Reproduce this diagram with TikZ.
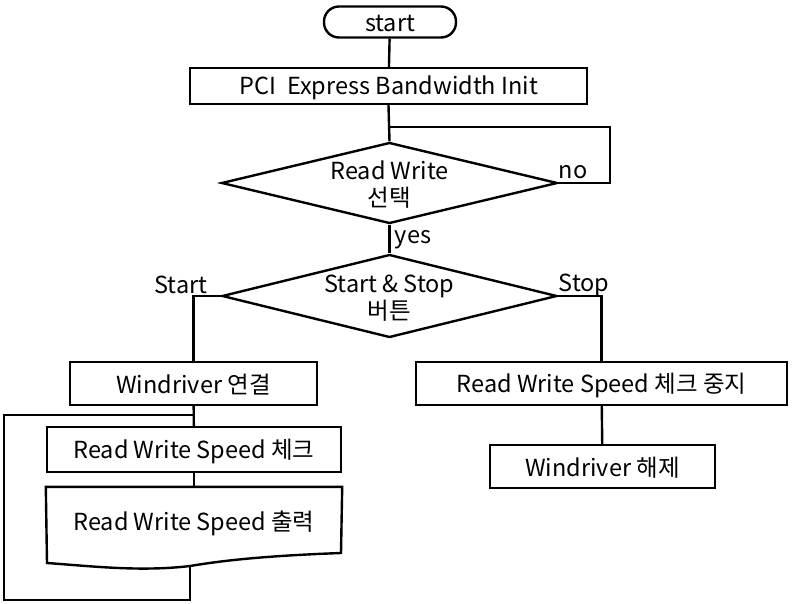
\documentclass[tikz,border=0pt]{standalone}
\usepackage{fontspec}
\setmainfont{Noto Sans CJK KR}
\usetikzlibrary{shapes.geometric}
\begin{document}
\begin{tikzpicture}[x=1pt,y=-1pt,line width=2.4pt,
  every node/.style={font=\fontsize{23.5}{27}\selectfont},
  term/.style={draw,rounded corners=15pt,minimum width=132pt,minimum height=31pt,inner sep=0pt},
  proc/.style={draw,rectangle,inner sep=0pt},
  dia/.style={draw,diamond,inner sep=0pt},
  txt/.style={align=center,inner sep=0pt}]
\useasboundingbox (0,0) rectangle (793,603);
\node[term] (start) at (390,22) {};
\node[txt] (startt) at (390,23.5) {start};
\node[proc,minimum width=397pt,minimum height=36pt] (pci) at (388.5,86) {};
\node[txt] (pcit) at (389,88) {PCI\ \ Express Bandwidth Init};
\node[dia,minimum width=336pt,minimum height=81pt] (d1) at (389.5,183) {};
\node[txt] (d1t) at (389.5,185) {Read Write\\선택};
\node[dia,minimum width=335pt,minimum height=83pt] (d2) at (389.5,296) {};
\node[txt] (d2t) at (389.5,298) {Start \& Stop\\버튼};
\node[proc,minimum width=247pt,minimum height=43pt] (wd) at (193.5,383.5) {};
\node[txt] (wdt) at (193.5,385) {Windriver 연결};
\node[proc,minimum width=371pt,minimum height=43pt] (stp) at (601.5,383.5) {};
\node[txt] (stpt) at (601.5,385) {Read Write Speed 체크 중지};
\node[proc,minimum width=225pt,minimum height=43pt] (un) at (602.5,466.5) {};
\node[txt] (unt) at (602.5,468) {Windriver 해제};
\node[proc,minimum width=294pt,minimum height=45pt] (chk) at (194,449.5) {};
\node[txt] (chkt) at (194,451) {Read Write Speed 체크};
\node[inner sep=0pt,minimum width=294pt,minimum height=76pt] (out) at (194,526) {};
\node[txt] (outt) at (194,523) {Read Write Speed 출력};
\draw (out.north west) -- (out.north east) -- (341,553)
  .. controls (260,556) and (220,561) .. (190,566)
  .. controls (140,572) and (90,566) .. (47,563) -- cycle;
\node[txt] (no) at (573,172) {no};
\node[txt] (yes) at (413,240) {yes};
\node[txt] (lstart) at (181,285) {Start};
\node[txt] (lstop) at (584,285) {Stop};
\coordinate (j1) at (390,127);
\coordinate (j2) at (194,415);
\coordinate (ob) at (190,566);
\draw (start) -- (pci);
\draw (pci.south) -- (d1.north);
\draw (d1.east) -- ++(51,0) |- (j1);
\draw (d1.south) -- (d2.north);
\draw (d2.west) -| (wd.north);
\draw (d2.east) -| (stp.north);
\draw (stp) -- (un);
\draw (wd) -- (chk);
\draw (chk) -- (out.north);
\draw (ob) -- (190,600) -| (4,415) -- (j2);
\end{tikzpicture}
\end{document}
